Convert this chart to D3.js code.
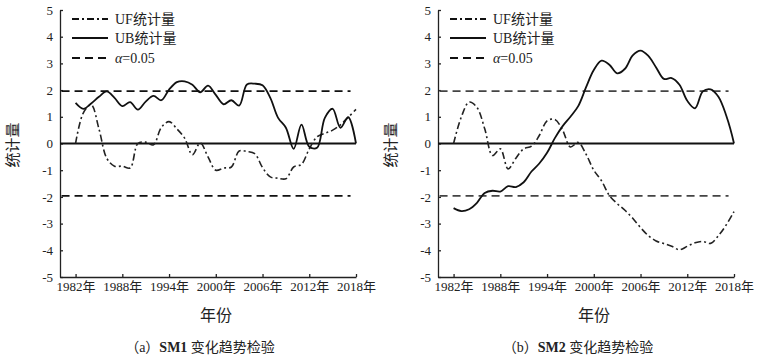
<!DOCTYPE html>
<html>
<head>
<meta charset="utf-8">
<script src="https://cdn.jsdelivr.net/npm/d3@7"></script>
<style>
  body { margin: 0; background: #fff; }
  svg text { font-family: "Liberation Serif", "Noto Sans CJK SC", serif; fill: #222; }
  .axis path, .axis line { stroke: #222; stroke-width: 1.3; }
  .axis text { font-size: 13px; }
</style>
</head>
<body>
<div id="chart"></div>
<script>
// years 1982..2018
const years = d3.range(1982, 2019);
const xTicks = [1982, 1988, 1994, 2000, 2006, 2012, 2018];
const yTicks = [-5, -4, -3, -2, -1, 0, 1, 2, 3, 4, 5];

// SM1
const sm1UF = [0, 1.15, 1.45, 0.55, -0.55, -0.85, -0.85, -0.92, 0.0, 0.05, -0.05, 0.6, 0.82, 0.55, 0.2, -0.42, 0.02, -0.5, -1.0, -0.92,
  -0.88, -0.28, -0.3, -0.38, -0.9, -1.25, -1.3, -1.32, -0.88, -0.78, -0.2, 0.25, 0.38, 0.5, 0.7, 0.98, 1.28];
const sm1UB = [1.52, 1.3, 1.5, 1.75, 1.95, 1.71, 1.4, 1.55, 1.27, 1.57, 1.78, 1.62, 2.02, 2.3, 2.33, 2.2, 1.92, 2.17, 1.82, 1.47,
  1.62, 1.42, 2.21, 2.24, 2.18, 1.71, 0.96, 0.59, -0.2, 0.71, -0.12, -0.16, 0.96, 1.3, 0.59, 0.99, 0];

// SM2
const sm2UF = [0, 1.0, 1.55, 1.35, 0.55, -0.45, -0.2, -0.95, -0.55, -0.2, -0.1, 0.3, 0.85, 0.9, 0.5, -0.13, 0.04, -0.4, -1.0, -1.4,
  -1.95, -2.25, -2.5, -2.8, -3.15, -3.45, -3.65, -3.75, -3.85, -3.98, -3.85, -3.72, -3.67, -3.74, -3.45, -3.05, -2.55];
const sm2UB = [-2.42, -2.53, -2.46, -2.22, -1.85, -1.77, -1.8, -1.6, -1.63, -1.45, -1.05, -0.75, -0.35, 0.2, 0.65, 1.0, 1.4, 2.1, 2.75, 3.1,
  2.95, 2.63, 2.8, 3.3, 3.48, 3.28, 2.85, 2.42, 2.45, 2.2, 1.6, 1.32, 1.95, 2.03, 1.75, 1.05, 0];

const alpha = 1.96;
const legendLabels = ["UF统计量", "UB统计量", "=0.05"];
const serif = "'Liberation Serif', 'Noto Sans CJK SC', serif";

const svg = d3.select("#chart").append("svg")
  .attr("width", 769).attr("height", 359);

function drawPanel(x0, x1, uf, ub, tag, name, dashColor) {
  const x = d3.scaleLinear().domain([1980, 2018]).range([x0, x1]);
  const y = d3.scaleLinear().domain([-5, 5]).range([277, 10]);
  const g = svg.append("g");

  // y axis
  g.append("g").attr("class", "axis")
    .attr("transform", `translate(${x0},0)`)
    .call(d3.axisLeft(y).tickValues(yTicks).tickSizeInner(-3).tickSizeOuter(0).tickPadding(7).tickFormat(d => String(d)))
    .attr("font-family", serif).attr("font-size", 13);
  // x axis
  g.append("g").attr("class", "axis")
    .attr("transform", "translate(0,277)")
    .call(d3.axisBottom(x).tickValues(xTicks).tickSizeInner(-3).tickSizeOuter(0).tickPadding(5).tickFormat(d => d + "年"))
    .attr("font-family", serif).attr("font-size", 13);

  // zero line
  g.append("line")
    .attr("x1", x(1980)).attr("x2", x(2018))
    .attr("y1", y(0)).attr("y2", y(0))
    .attr("stroke", "#111").attr("stroke-width", 1.8);

  // alpha lines
  [alpha, -alpha].forEach(v => {
    g.append("line")
      .attr("x1", x(1980.2)).attr("x2", x(2017.3))
      .attr("y1", y(v)).attr("y2", y(v))
      .attr("stroke", dashColor).attr("stroke-width", 1.8)
      .attr("stroke-dasharray", "8,5");
  });

  const line = d3.line()
    .x((d, i) => x(years[i]))
    .y(d => y(d))
    .curve(d3.curveCatmullRom);

  g.append("path").datum(uf)
    .attr("d", line).attr("fill", "none")
    .attr("stroke", "#222").attr("stroke-width", 1.6)
    .attr("stroke-dasharray", "7,3,2,3");
  g.append("path").datum(ub)
    .attr("d", line).attr("fill", "none")
    .attr("stroke", "#111").attr("stroke-width", 1.8);

  // legend
  const lx = x0 + 12;
  const rows = [19, 38, 58];
  const dashes = ["7,3,2,3", null, "8,5"];
  rows.forEach((ry, i) => {
    g.append("line")
      .attr("x1", lx).attr("x2", lx + 36)
      .attr("y1", ry).attr("y2", ry)
      .attr("stroke", "#111").attr("stroke-width", 1.8)
      .attr("stroke-dasharray", dashes[i]);
    const t = g.append("text")
      .attr("x", lx + 43).attr("y", ry + 5)
      .style("font-size", "14px");
    if (i === 2) {
      t.append("tspan").style("font-style", "italic").text("α");
    }
    t.append("tspan").text(legendLabels[i]);
  });

  // axis titles
  g.append("text")
    .attr("transform", `translate(${x0 - 42},145) rotate(-90)`)
    .attr("text-anchor", "middle")
    .style("font-family", "Noto Sans CJK SC")
    .style("font-size", "15px")
    .text("统计量");
  g.append("text")
    .attr("x", (x0 + x1) / 2 + 8).attr("y", 321)
    .attr("text-anchor", "middle")
    .style("font-size", "16px")
    .text("年份");

  // caption
  const c = g.append("text")
    .attr("x", (x0 + x1) / 2 - 8).attr("y", 352)
    .attr("text-anchor", "middle")
    .style("font-size", "14px");
  c.append("tspan").text("（" + tag + "）");
  c.append("tspan").style("font-weight", "bold").text(name);
  c.append("tspan").text(" 变化趋势检验");
}

drawPanel(60, 356, sm1UF, sm1UB, "a", "SM1", "#111");
drawPanel(438, 734, sm2UF, sm2UB, "b", "SM2", "#444");
</script>
</body>
</html>
